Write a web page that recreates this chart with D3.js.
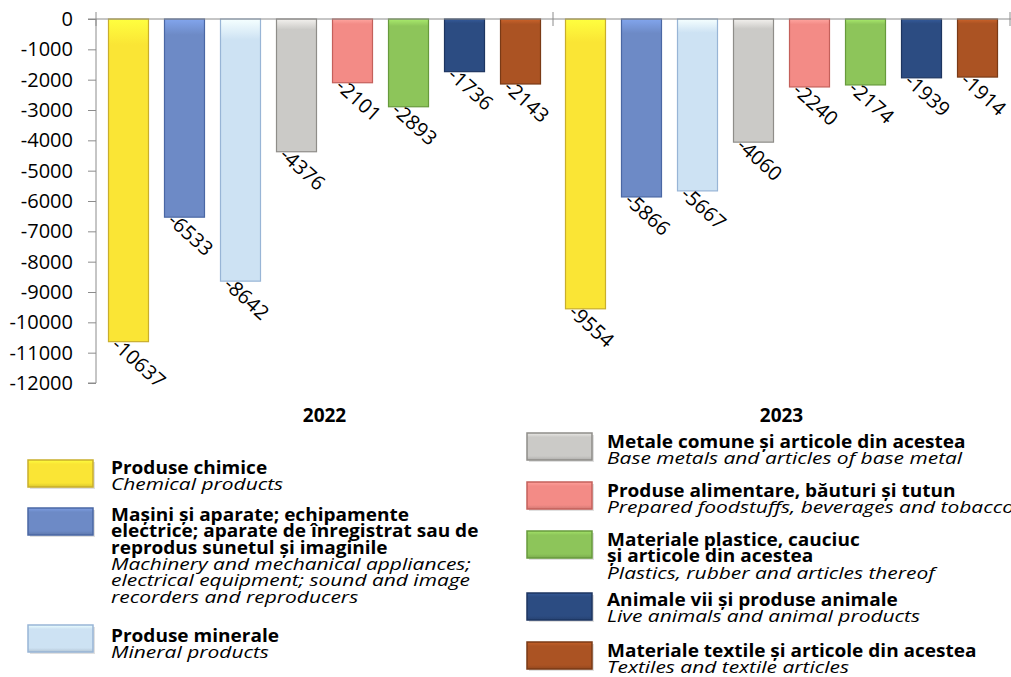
<!DOCTYPE html>
<html><head><meta charset="utf-8">
<script src="https://cdn.jsdelivr.net/npm/d3@7"></script>
<style>
body{margin:0;background:#fff;}
svg{display:block;font-family:"Open Sans",sans-serif;}
</style></head>
<body><svg id="c" width="1011" height="677"></svg>
<script>
const years = ["2022","2023"];
const categories = ["Produse chimice","Mașini și aparate","Produse minerale","Metale comune","Produse alimentare","Materiale plastice","Animale vii","Materiale textile"];
const values2022 = [-10637,-6533,-8642,-4376,-2101,-2893,-1736,-2143];
const values2023 = [-9554,-5866,-5667,-4060,-2240,-2174,-1939,-1914];
const yTicks = [0,-1000,-2000,-3000,-4000,-5000,-6000,-7000,-8000,-9000,-10000,-11000,-12000];
const colors = ["#FAE535","#6D8AC6","#CDE2F3","#CBCAC7","#F38B86","#8DC55A","#2C4C82","#AB5323"];
const borders = ["#C9AE2C","#4A67A4","#98B5D6","#8F8D89","#C4605B","#679A3C","#1D3560","#7A3A16"];
const legendBold = [
  ["Produse chimice"],
  ["Mașini și aparate; echipamente","electrice; aparate de înregistrat sau de","reprodus sunetul și imaginile"],
  ["Produse minerale"],
  ["Metale comune și articole din acestea"],
  ["Produse alimentare, băuturi și tutun"],
  ["Materiale plastice, cauciuc","și articole din acestea"],
  ["Animale vii și produse animale"],
  ["Materiale textile și articole din acestea"]
];
const legendItalic = [
  ["Chemical products"],
  ["Machinery and mechanical appliances;","electrical equipment; sound and image","recorders and reproducers"],
  ["Mineral products"],
  ["Base metals and articles of base metal"],
  ["Prepared foodstuffs, beverages and tobacco"],
  ["Plastics, rubber and articles thereof"],
  ["Live animals and animal products"],
  ["Textiles and textile articles"]
];
const seriesByYear = {"2022": values2022, "2023": values2023};

const svg = d3.select("#c");
const pL = 96, pR = 1010, pT = 19, pB = 383;
const y = d3.scaleLinear().domain([-12000, 0]).range([pB, pT]);
const x0 = d3.scaleBand().domain(years).range([pL, pR]).padding(0);
const x1 = d3.scaleBand().domain(categories).range([0, x0.bandwidth()]).paddingInner(0.2857).paddingOuter(0.223);

const defs = svg.append("defs");
colors.forEach((c, i) => {
  const g = defs.append("linearGradient").attr("id", "g" + i).attr("x1", 0).attr("y1", 0).attr("x2", 0).attr("y2", 1);
  g.append("stop").attr("offset", "0%").attr("stop-color", d3.color(c).brighter(0.5));
  g.append("stop").attr("offset", "8%").attr("stop-color", c);
  g.append("stop").attr("offset", "100%").attr("stop-color", c);
  const h = defs.append("linearGradient").attr("id", "h" + i).attr("x1", 0).attr("y1", 0).attr("x2", 0).attr("y2", 1);
  h.append("stop").attr("offset", "0%").attr("stop-color", d3.color(c).brighter(0.4));
  h.append("stop").attr("offset", "15%").attr("stop-color", c);
  h.append("stop").attr("offset", "85%").attr("stop-color", c);
  h.append("stop").attr("offset", "100%").attr("stop-color", d3.color(c).darker(0.4));
});

const yAxis = d3.axisLeft(y).tickValues(yTicks).tickSize(8).tickFormat(d => String(d));
const ga = svg.append("g").attr("transform", `translate(${pL},0)`).call(yAxis);
ga.select(".domain").attr("stroke", "#8c8c8c").attr("d", `M-8,${pT}H0V${pB}H-8`);
ga.selectAll(".tick line").attr("stroke", "#8c8c8c");
ga.selectAll(".tick text").attr("font-size", 20).attr("fill", "#000").attr("x", -23).attr("font-family", "'Open Sans',sans-serif");

years.forEach(yr => {
  const g = svg.append("g").attr("transform", `translate(${x0(yr)},0)`);
  const vals = seriesByYear[yr];
  g.selectAll("rect").data(vals).join("rect")
    .attr("x", (d, i) => x1(categories[i]))
    .attr("y", y(0))
    .attr("width", x1.bandwidth())
    .attr("height", d => y(d) - y(0))
    .attr("fill", (d, i) => `url(#g${i})`)
    .attr("stroke", (d, i) => borders[i]).attr("stroke-width", 1.2);
  g.selectAll("text.lbl").data(vals).join("text").attr("class", "lbl")
    .attr("transform", (d, i) => `translate(${x1(categories[i]) + 2},${y(d) + 5}) rotate(42)`)
    .attr("font-size", 20).attr("fill", "#000")
    .text(d => String(d));
  svg.append("text").attr("x", x0(yr) + x0.bandwidth() / 2).attr("y", 422)
    .attr("text-anchor", "middle").attr("font-weight", "bold").attr("font-size", 19).text(yr);
});

svg.append("line").attr("x1", pL).attr("x2", pR + 2).attr("y1", y(0)).attr("y2", y(0)).attr("stroke", "#8c8c8c");
const bounds = years.map(yr => x0(yr)).concat([x0.range()[1]]);
svg.selectAll("line.gt").data(bounds).join("line").attr("class", "gt")
  .attr("x1", d => d).attr("x2", d => d).attr("y1", y(0) - 7).attr("y2", y(0) + 7).attr("stroke", "#8c8c8c");

const legRect = [[28,460],[28,508],[28,625],[527,433],[527,482],[527,531],[527,593],[527,642]];
const legText = [[111,474],[111,521],[111,642],[607,448],[607,497],[607,546],[607,606],[607,657]];
const lh = 16.3;
categories.forEach((c, i) => {
  const [rx, ry] = legRect[i];
  svg.append("rect").attr("x", rx + 2).attr("y", ry + 2).attr("width", 65).attr("height", 27).attr("fill", "#000").attr("opacity", 0.12);
  svg.append("rect").attr("x", rx).attr("y", ry).attr("width", 65).attr("height", 27)
    .attr("fill", `url(#h${i})`).attr("stroke", borders[i]).attr("stroke-width", 1.5);
  const [tx, ty] = legText[i];
  let k = 0;
  legendBold[i].forEach(s => {
    svg.append("text").attr("transform", `translate(${tx},${ty + lh * k}) scale(1.12,1)`)
      .attr("font-size", 17).attr("font-weight", "bold").attr("fill", "#000").text(s);
    k++;
  });
  legendItalic[i].forEach(s => {
    svg.append("text").attr("transform", `translate(${tx},${ty + lh * k}) scale(1.27,1)`)
      .attr("font-size", 16.5).attr("font-style", "italic").attr("fill", "#000").text(s);
    k++;
  });
});
</script></body></html>
